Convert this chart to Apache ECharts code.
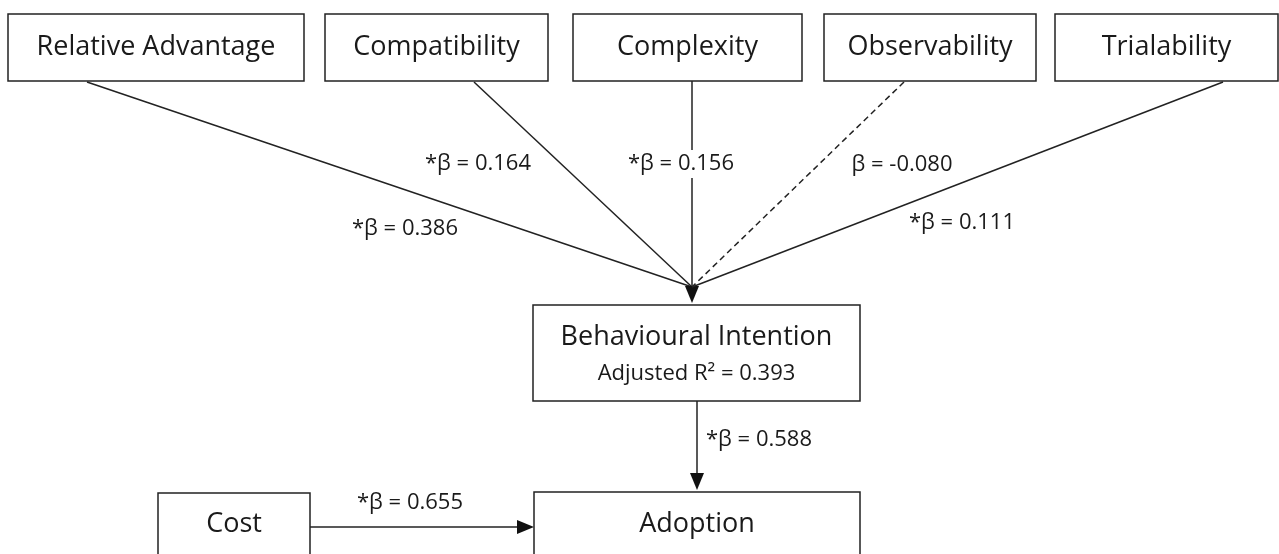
<!DOCTYPE html>
<html>
<head>
<meta charset="utf-8">
<script src="https://cdn.jsdelivr.net/npm/echarts@6/dist/echarts.min.js"></script>
<style>
  html, body { margin: 0; padding: 0; background: #fff; }
  #chart { width: 1279px; height: 554px; }
</style>
</head>
<body>
<div id="chart"></div>
<script>
// boxes of the path model (diagram units = pixels of the original figure)
var nodeNames = ['Relative Advantage', 'Compatibility', 'Complexity', 'Observability', 'Trialability',
  'Behavioural Intention', 'Adoption', 'Cost'];
var nodeSub = ['', '', '', '', '', 'Adjusted R\u00b2 = 0.393', '', ''];
var nodeLeft = [8, 325, 573, 824, 1055, 533, 534, 158];
var nodeRight = [304, 548, 802, 1036, 1278, 860, 860, 310];
var nodeTop = [14, 14, 14, 14, 14, 305, 492, 493];
var nodeBottom = [81, 81, 81, 81, 81, 401, 600, 600];
var nodeTextY = [47, 47, 47, 47, 47, 337, 524, 524];
var nodeSubY = [0, 0, 0, 0, 0, 374, 0, 0];

// paths between boxes
var pathX1 = [87, 474, 692, 904, 1223, 697, 310];
var pathY1 = [82, 82, 81, 82, 82, 401, 527];
var pathX2 = [692, 692, 692, 692, 692, 697, 534];
var pathY2 = [287, 287, 303, 287, 287, 490, 527];
var pathDashed = [0, 0, 0, 1, 0, 0, 0];
var pathHead = [0, 0, 1, 0, 0, 1, 1];

// beta coefficients
var betaLabels = ['*\u03b2 = 0.386', '*\u03b2 = 0.164', '*\u03b2 = 0.156', '\u03b2 = -0.080', '*\u03b2 = 0.111',
  '*\u03b2 = 0.588', '*\u03b2 = 0.655'];
var betaX = [405, 478, 681, 902, 962, 759, 410];
var betaY = [229, 164, 164, 165, 223, 440, 503];

var FONT = '"Open Sans", "Noto Sans", sans-serif';
var chart = echarts.init(document.getElementById('chart'));

function idx(n) {
  var a = [];
  for (var i = 0; i < n; i++) a.push(i);
  return a;
}

chart.setOption({
  animation: false,
  grid: { left: 0, right: 0, top: 0, bottom: 0 },
  xAxis: { type: 'value', min: 0, max: 1279, show: false },
  yAxis: { type: 'value', min: 0, max: 554, inverse: true, show: false },
  series: [
    {
      // arrows
      type: 'custom',
      coordinateSystem: 'cartesian2d',
      data: idx(pathX1.length),
      renderItem: function (params, api) {
        var i = params.dataIndex;
        var p1 = api.coord([pathX1[i], pathY1[i]]);
        var p2 = api.coord([pathX2[i], pathY2[i]]);
        var children = [];
        var dx = p2[0] - p1[0], dy = p2[1] - p1[1];
        var len = Math.sqrt(dx * dx + dy * dy);
        var ux = dx / len, uy = dy / len;
        var headLen = pathHead[i] ? 17 : 0;
        var end = [p2[0] - ux * headLen * 0.5, p2[1] - uy * headLen * 0.5];
        children.push({
          type: 'line',
          shape: { x1: p1[0], y1: p1[1], x2: end[0], y2: end[1] },
          style: {
            stroke: '#222',
            lineWidth: 1.5,
            lineDash: pathDashed[i] ? [6, 4] : null
          }
        });
        if (pathHead[i]) {
          var bx = p2[0] - ux * headLen, by = p2[1] - uy * headLen;
          var hw = 7;
          children.push({
            type: 'polygon',
            shape: {
              points: [[p2[0], p2[1]], [bx - uy * hw, by + ux * hw], [bx + uy * hw, by - ux * hw]]
            },
            style: { fill: '#111' }
          });
        }
        return { type: 'group', children: children };
      },
      z: 1
    },
    {
      // coefficient labels
      type: 'custom',
      coordinateSystem: 'cartesian2d',
      data: idx(betaLabels.length),
      renderItem: function (params, api) {
        var i = params.dataIndex;
        var p = api.coord([betaX[i], betaY[i]]);
        return {
          type: 'text',
          x: p[0],
          y: p[1],
          style: {
            text: betaLabels[i],
            font: '22px ' + FONT,
            fill: '#1a1a1a',
            align: 'center',
            verticalAlign: 'middle',
            backgroundColor: '#fff',
            padding: [3, 4]
          }
        };
      },
      z: 2
    },
    {
      // boxes
      type: 'custom',
      coordinateSystem: 'cartesian2d',
      data: idx(nodeNames.length),
      renderItem: function (params, api) {
        var i = params.dataIndex;
        var tl = api.coord([nodeLeft[i], nodeTop[i]]);
        var br = api.coord([nodeRight[i], nodeBottom[i]]);
        var cx = (tl[0] + br[0]) / 2;
        var children = [{
          type: 'rect',
          shape: { x: tl[0], y: tl[1], width: br[0] - tl[0], height: br[1] - tl[1] },
          style: { fill: '#fff', stroke: '#222', lineWidth: 1.5 }
        }, {
          type: 'text',
          x: cx,
          y: api.coord([0, nodeTextY[i]])[1],
          style: {
            text: nodeNames[i],
            font: '27px ' + FONT,
            fill: '#1a1a1a',
            align: 'center',
            verticalAlign: 'middle'
          }
        }];
        if (nodeSub[i]) {
          children.push({
            type: 'text',
            x: cx,
            y: api.coord([0, nodeSubY[i]])[1],
            style: {
              text: nodeSub[i],
              font: '22px ' + FONT,
              fill: '#1a1a1a',
              align: 'center',
              verticalAlign: 'middle'
            }
          });
        }
        return { type: 'group', children: children };
      },
      z: 3
    }
  ]
});
</script>
</body>
</html>
